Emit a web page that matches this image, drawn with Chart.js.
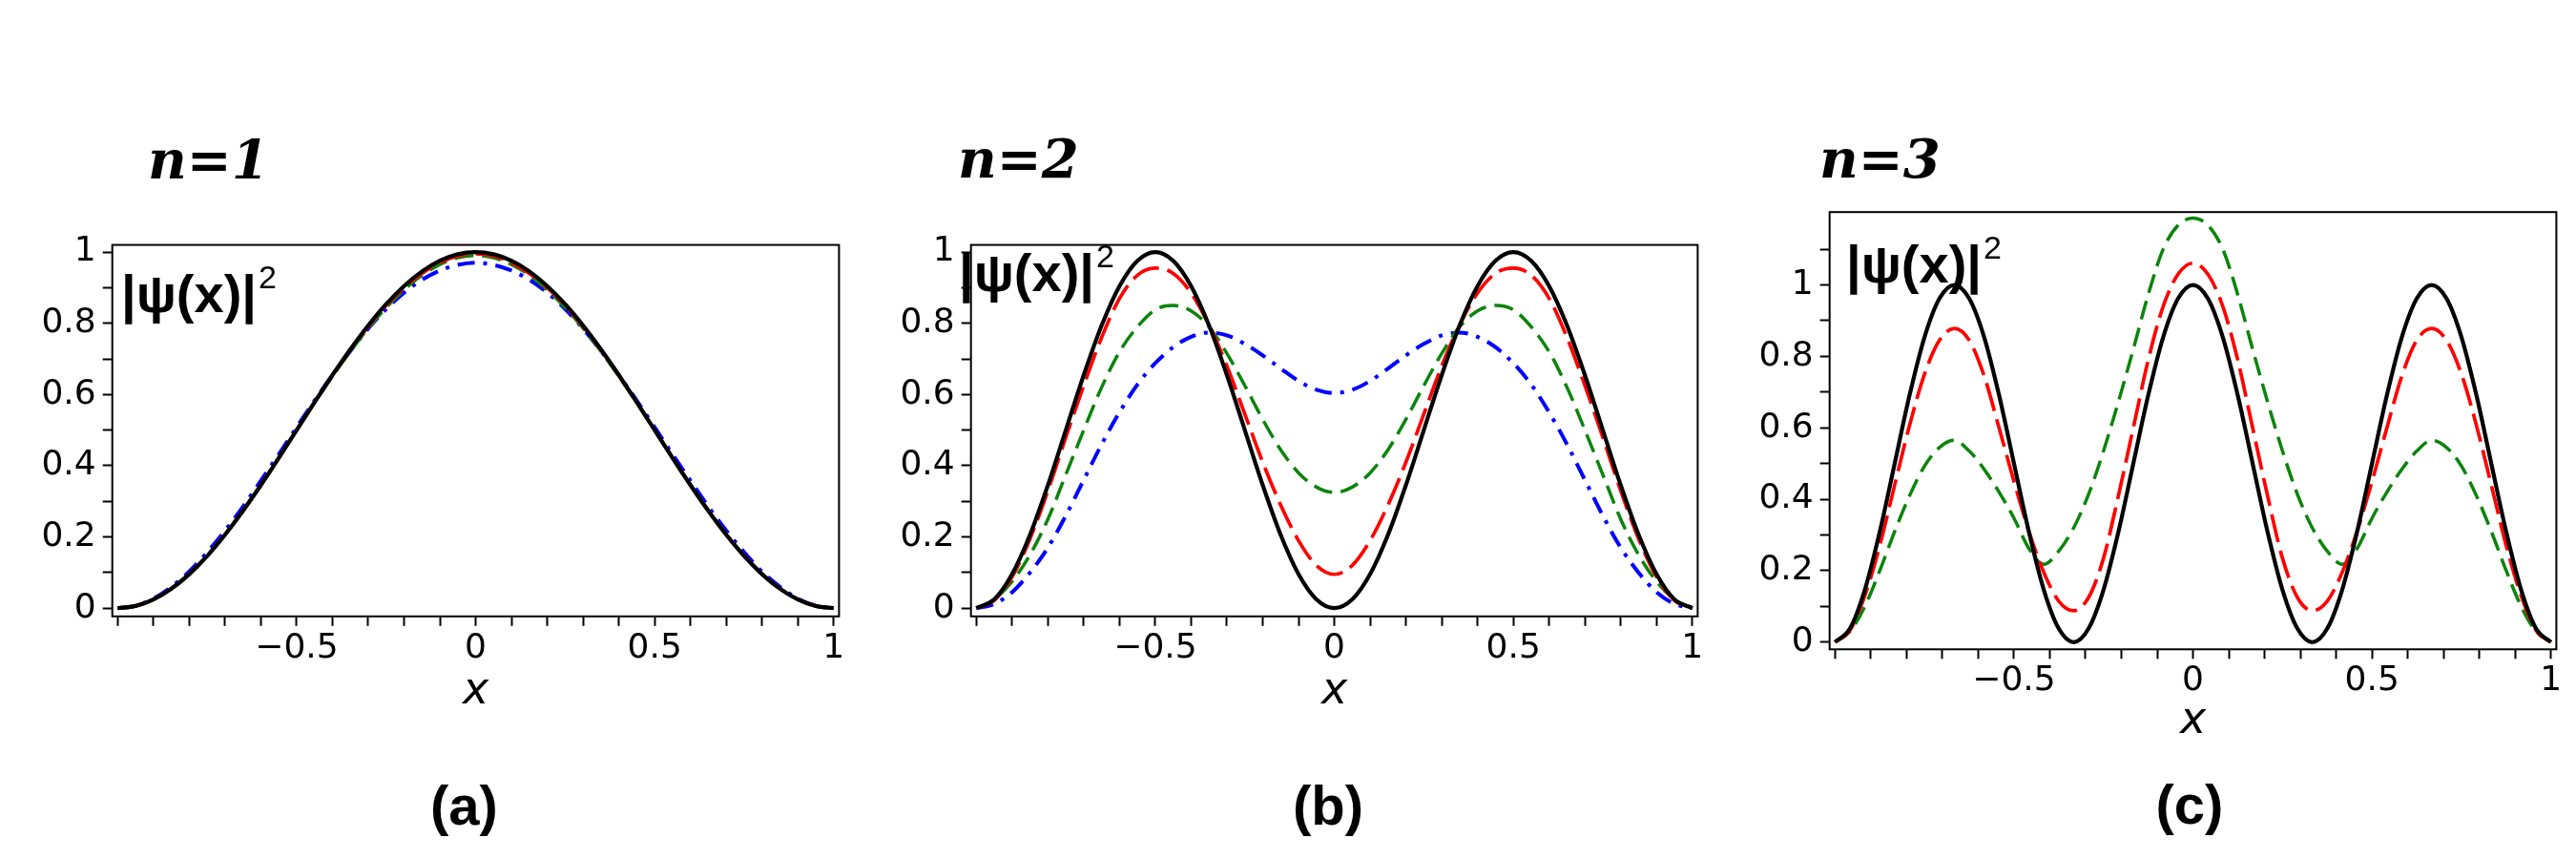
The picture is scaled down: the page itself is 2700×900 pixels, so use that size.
<!DOCTYPE html>
<html>
<head>
<meta charset="utf-8">
<script src="https://cdn.jsdelivr.net/npm/chart.js@4.4.1/dist/chart.umd.min.js"></script>
<style>
  body { margin: 0; background: #fff; }
  #wrap { position: relative; width: 2700px; height: 900px; overflow: hidden; }
  canvas { position: absolute; top: 0; }
  .lbl { position: absolute; white-space: nowrap; color: #000; }
  .nlab { font: italic bold 56px "DejaVu Serif"; line-height: 56px; }
  .psi { font: bold 56px "Liberation Sans"; line-height: 56px; }
  .psi .sq { font-size: 34px; font-weight: normal; line-height: 0; vertical-align: 25px; margin-left: 2px; }
  .pan { font: bold 58px "Liberation Sans"; line-height: 58px; width: 200px; text-align: center; }
</style>
</head>
<body>
<div id="wrap">
  <canvas id="chartA" width="900" height="900" style="left:0"></canvas>
  <canvas id="chartB" width="900" height="900" style="left:900px"></canvas>
  <canvas id="chartC" width="900" height="900" style="left:1800px"></canvas>

  <div class="lbl nlab" style="left:155px;top:139px">n=1</div>
  <div class="lbl nlab" style="left:1004px;top:137.6px">n=2</div>
  <div class="lbl nlab" style="left:1907px;top:137.6px">n=3</div>

  <div class="lbl psi" style="left:127px;top:279.6px">|ψ(x)|<span class="sq">2</span></div>
  <div class="lbl psi" style="left:1005px;top:257.6px">|ψ(x)|<span class="sq">2</span></div>
  <div class="lbl psi" style="left:1935px;top:248.6px">|ψ(x)|<span class="sq">2</span></div>

  <div class="lbl pan" style="left:386.5px;top:814.9px">(a)</div>
  <div class="lbl pan" style="left:1292px;top:814.9px">(b)</div>
  <div class="lbl pan" style="left:2195px;top:813.9px">(c)</div>
</div>

<script>
// ========== |ψ(x)|² panels n=1,2,3 ==========

// ── sample points ──
var X_AB = [-1, -0.95, -0.9, -0.85, -0.8, -0.75, -0.7, -0.65, -0.6, -0.55, -0.5, -0.45, -0.4, -0.35, -0.3, -0.25, -0.2, -0.15, -0.1, -0.05,
  0, 0.05, 0.1, 0.15, 0.2, 0.25, 0.3, 0.35, 0.4, 0.45, 0.5, 0.55, 0.6, 0.65, 0.7, 0.75, 0.8, 0.85, 0.9, 0.95, 1];

var X_C = [-1, -0.9583, -0.9167, -0.875, -0.8333, -0.7917, -0.75, -0.7083, -0.6667, -0.625, -0.5833, -0.5417, -0.5, -0.4583, -0.4167, -0.375,
  -0.3333, -0.2917, -0.25, -0.2083, -0.1667, -0.125, -0.0833, -0.0417, 0, 0.0417, 0.0833, 0.125, 0.1667, 0.2083, 0.25, 0.2917, 0.3333,
  0.375, 0.4167, 0.4583, 0.5, 0.5417, 0.5833, 0.625, 0.6667, 0.7083, 0.75, 0.7917, 0.8333, 0.875, 0.9167, 0.9583, 1];

// n=1
var A_BLACK = [0, 0.0062, 0.0245, 0.0545, 0.0955, 0.1464, 0.2061, 0.273, 0.3455, 0.4218, 0.5, 0.5782, 0.6545, 0.727, 0.7939, 0.8536, 0.9045, 0.9455, 0.9755, 0.9938,
  1, 0.9938, 0.9755, 0.9455, 0.9045, 0.8536, 0.7939, 0.727, 0.6545, 0.5782, 0.5, 0.4218, 0.3455, 0.273, 0.2061, 0.1464, 0.0955, 0.0545, 0.0245, 0.0062, 0];
var A_RED = [0, 0.0063, 0.0248, 0.055, 0.096, 0.147, 0.207, 0.274, 0.346, 0.422, 0.5, 0.578, 0.653, 0.725, 0.791, 0.85, 0.9, 0.94, 0.97, 0.989,
  0.995, 0.989, 0.97, 0.94, 0.9, 0.85, 0.791, 0.725, 0.653, 0.578, 0.5, 0.422, 0.346, 0.274, 0.207, 0.147, 0.096, 0.055, 0.0248, 0.0063, 0];
var A_GREEN = [0, 0.0065, 0.025, 0.056, 0.097, 0.148, 0.208, 0.275, 0.347, 0.423, 0.5, 0.577, 0.651, 0.721, 0.786, 0.844, 0.894, 0.935, 0.965, 0.984,
  0.99, 0.984, 0.965, 0.935, 0.894, 0.844, 0.786, 0.721, 0.651, 0.577, 0.5, 0.423, 0.347, 0.275, 0.208, 0.148, 0.097, 0.056, 0.025, 0.0065, 0];
var A_BLUE = [0, 0.007, 0.027, 0.06, 0.103, 0.157, 0.218, 0.285, 0.358, 0.432, 0.508, 0.583, 0.655, 0.722, 0.785, 0.84, 0.886, 0.922, 0.948, 0.964,
  0.97, 0.964, 0.948, 0.922, 0.886, 0.84, 0.785, 0.722, 0.655, 0.583, 0.508, 0.432, 0.358, 0.285, 0.218, 0.157, 0.103, 0.06, 0.027, 0.007, 0];

// n=2
var B_BLACK = [0, 0.0245, 0.0955, 0.2061, 0.3455, 0.5, 0.6545, 0.7939, 0.9045, 0.9755, 1, 0.9755, 0.9045, 0.7939, 0.6545, 0.5, 0.3455, 0.2061, 0.0955, 0.0245,
  0, 0.0245, 0.0955, 0.2061, 0.3455, 0.5, 0.6545, 0.7939, 0.9045, 0.9755, 1, 0.9755, 0.9045, 0.7939, 0.6545, 0.5, 0.3455, 0.2061, 0.0955, 0.0245, 0];
var B_RED = [0, 0.022, 0.088, 0.195, 0.33, 0.48, 0.625, 0.76, 0.87, 0.935, 0.955, 0.94, 0.885, 0.795, 0.68, 0.545, 0.41, 0.29, 0.19, 0.12,
  0.095, 0.12, 0.19, 0.29, 0.41, 0.545, 0.68, 0.795, 0.885, 0.94, 0.955, 0.935, 0.87, 0.76, 0.625, 0.48, 0.33, 0.195, 0.088, 0.022, 0];
var B_GREEN = [0, 0.025, 0.075, 0.15, 0.25, 0.375, 0.5, 0.62, 0.72, 0.79, 0.838, 0.85, 0.835, 0.79, 0.715, 0.625, 0.53, 0.445, 0.38, 0.34,
  0.325, 0.34, 0.38, 0.445, 0.53, 0.625, 0.715, 0.79, 0.835, 0.85, 0.838, 0.79, 0.72, 0.62, 0.5, 0.375, 0.25, 0.15, 0.075, 0.025, 0];
var B_BLUE = [0, 0.012, 0.045, 0.1, 0.17, 0.26, 0.36, 0.46, 0.55, 0.628, 0.688, 0.733, 0.762, 0.774, 0.766, 0.742, 0.71, 0.673, 0.638, 0.613,
  0.604, 0.613, 0.638, 0.673, 0.71, 0.742, 0.766, 0.774, 0.762, 0.733, 0.688, 0.628, 0.55, 0.46, 0.36, 0.26, 0.17, 0.1, 0.045, 0.012, 0];

// n=3
var C_BLACK = [0, 0.0381, 0.1464, 0.3087, 0.5, 0.6913, 0.8536, 0.9619, 1, 0.9619, 0.8536, 0.6913, 0.5, 0.3087, 0.1464, 0.0381, 0, 0.0381, 0.1464, 0.3087, 0.5, 0.6913, 0.8536, 0.9619,
  1, 0.9619, 0.8536, 0.6913, 0.5, 0.3087, 0.1464, 0.0381, 0, 0.0381, 0.1464, 0.3087, 0.5, 0.6913, 0.8536, 0.9619, 1, 0.9619, 0.8536, 0.6913, 0.5, 0.3087, 0.1464, 0.0381, 0];
var C_RED = [0, 0.033, 0.13, 0.27, 0.44, 0.607, 0.75, 0.845, 0.878, 0.845, 0.745, 0.6, 0.45, 0.31, 0.195, 0.115, 0.088, 0.125, 0.235, 0.41, 0.6, 0.79, 0.94, 1.03,
  1.061, 1.03, 0.94, 0.79, 0.6, 0.41, 0.235, 0.125, 0.088, 0.115, 0.195, 0.31, 0.45, 0.6, 0.745, 0.845, 0.878, 0.845, 0.75, 0.607, 0.44, 0.27, 0.13, 0.033, 0];
var C_GREEN = [0, 0.03, 0.1, 0.2, 0.31, 0.41, 0.493, 0.545, 0.565, 0.535, 0.484, 0.42, 0.347, 0.262, 0.218, 0.255, 0.32, 0.414, 0.535, 0.673, 0.82, 0.973, 1.1, 1.167,
  1.187, 1.167, 1.1, 0.973, 0.82, 0.673, 0.535, 0.414, 0.32, 0.255, 0.218, 0.262, 0.347, 0.42, 0.484, 0.535, 0.565, 0.545, 0.493, 0.41, 0.31, 0.2, 0.1, 0.03, 0];

// ── ticks ──
var X_TICKS = [-1, -0.9, -0.8, -0.7, -0.6, -0.5, -0.4, -0.3, -0.2, -0.1, 0, 0.1, 0.2, 0.3, 0.4, 0.5, 0.6, 0.7, 0.8, 0.9, 1];
var X_TICK_LABELS = ['', '', '', '', '', '\u22120.5', '', '', '', '', '0', '', '', '', '', '0.5', '', '', '', '', '1'];
var Y_TICKS_AB = [0, 0.1, 0.2, 0.3, 0.4, 0.5, 0.6, 0.7, 0.8, 0.9, 1];
var Y_TICKS_C = [0, 0.1, 0.2, 0.3, 0.4, 0.5, 0.6, 0.7, 0.8, 0.9, 1, 1.1];
var Y_TICK_LABELS = ['0', '', '0.2', '', '0.4', '', '0.6', '', '0.8', '', '1', ''];

var X_RANGE = [-1.015, 1.015];
var Y_RANGE_AB = [-0.023, 1.02];
var Y_RANGE_C = [-0.02, 1.204];

// ── line styles ──
var STYLE_BLACK = { color: '#000000', dash: [], width: 4.2 };
var STYLE_RED = { color: '#ff0000', dash: [30, 9], width: 3.7 };
var STYLE_GREEN = { color: '#0b840b', dash: [20, 9], width: 3.5 };
var STYLE_BLUE = { color: '#0000ff', dash: [18, 9, 4, 9], width: 4 };

// 把图框四边画出来
var boxPlugin = {
  id: 'box',
  afterDraw: function(chart) {
    var a = chart.chartArea;
    var ctx = chart.ctx;
    ctx.save();
    ctx.strokeStyle = '#000';
    ctx.lineWidth = 2;
    ctx.strokeRect(a.left, a.top, a.right - a.left, a.bottom - a.top);
    ctx.restore();
  }
};

function line(xs, ys, st) {
  return {
    data: xs.map(function(x, i) { return { x: x, y: ys[i] }; }),
    borderColor: st.color,
    borderWidth: st.width,
    borderDash: st.dash,
    borderCapStyle: 'butt',
    pointRadius: 0,
    fill: false,
    cubicInterpolationMode: 'monotone'
  };
}

function axisGrid() {
  return { display: true, drawOnChartArea: false, drawTicks: true, tickLength: 10, tickWidth: 2, tickColor: '#000', color: '#000' };
}

function makePanel(id, datasets, yTicks, yRange, padTop, padBottom, xAxisH) {
  var ctx = document.getElementById(id).getContext('2d');
  return new Chart(ctx, {
    type: 'line',
    data: { datasets: datasets },
    plugins: [boxPlugin],
    options: {
      responsive: false,
      animation: false,
      layout: { padding: { left: 17.7, right: 20.6, top: padTop, bottom: padBottom } },
      plugins: { legend: { display: false }, tooltip: { enabled: false } },
      scales: {
        x: {
          type: 'linear',
          min: X_RANGE[0], max: X_RANGE[1],
          afterBuildTicks: function(s) { s.ticks = X_TICKS.map(function(v) { return { value: v }; }); },
          afterFit: function(s) { s.height = xAxisH; },
          ticks: {
            autoSkip: false, maxRotation: 0, minRotation: 0, padding: 2, color: '#000',
            font: { family: 'DejaVu Sans', size: 36 },
            callback: function(v, i) { return X_TICK_LABELS[i]; }
          },
          grid: axisGrid(),
          border: { display: false },
          title: {
            display: true, text: 'x', color: '#000', padding: { top: 0, bottom: 0 },
            font: { family: 'DejaVu Sans', style: 'italic', size: 46 }
          }
        },
        y: {
          type: 'linear',
          min: yRange[0], max: yRange[1],
          afterBuildTicks: function(s) { s.ticks = yTicks.map(function(v) { return { value: v }; }); },
          afterFit: function(s) { s.width = 100; },
          ticks: {
            autoSkip: false, padding: 7, color: '#000',
            font: { family: 'DejaVu Sans', size: 36 },
            callback: function(v, i) { return Y_TICK_LABELS[i]; }
          },
          grid: axisGrid(),
          border: { display: false }
        }
      }
    }
  });
}

// ── 三个面板 ──
makePanel('chartA', [
  line(X_AB, A_BLACK, STYLE_BLACK),
  line(X_AB, A_RED, STYLE_RED),
  line(X_AB, A_GREEN, STYLE_GREEN),
  line(X_AB, A_BLUE, STYLE_BLUE)
], Y_TICKS_AB, Y_RANGE_AB, 256.6, 147.6, 106.6);

makePanel('chartB', [
  line(X_AB, B_BLACK, STYLE_BLACK),
  line(X_AB, B_RED, STYLE_RED),
  line(X_AB, B_GREEN, STYLE_GREEN),
  line(X_AB, B_BLUE, STYLE_BLUE)
], Y_TICKS_AB, Y_RANGE_AB, 256.6, 147.6, 106.6);

makePanel('chartC', [
  line(X_C, C_BLACK, STYLE_BLACK),
  line(X_C, C_RED, STYLE_RED),
  line(X_C, C_GREEN, STYLE_GREEN)
], Y_TICKS_C, Y_RANGE_C, 222.2, 116.1, 103.6);
</script>
</body>
</html>
